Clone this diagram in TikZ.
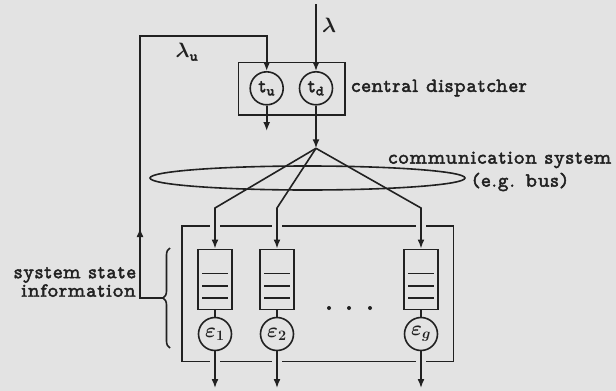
\documentclass[tikz,border=0pt]{standalone}
\usepackage{amsmath}
\usepackage{fontspec}
\setmainfont{lmmonoprop10-regular.otf}[FakeBold=2.2, LetterSpace=4, BoldFont=lmmonoproplt10-bold.otf]
\usetikzlibrary{arrows.meta,calc,shapes.geometric,decorations.pathreplacing}
\definecolor{paper}{gray}{0.89}
\definecolor{ink}{gray}{0.13}
\tikzset{
  wire/.style={line width=1.6pt, draw=ink},
  flow/.style={wire, -{Latex[length=9pt,width=7pt]}},
  servbox/.style={wire, rectangle, minimum width=34pt, minimum height=60pt, inner sep=0pt},
  server/.style={wire, circle, minimum size=33pt, inner sep=0pt, text=ink, font=\fontsize{20}{20}\selectfont},
  txtlbl/.style={font=\fontsize{20}{18.5}\selectfont, text=ink, inner sep=0pt},
}

\begin{document}
\begin{tikzpicture}[x=1pt,y=-1pt]
\useasboundingbox (0,0) rectangle (616,391);
\fill[paper] (0,0) rectangle (616,391);
\node[wire, rectangle, minimum width=106.7pt, minimum height=52.7pt] (disp) at (291.7,88.7) {};
\node[server] (tu) at (266.7,88.3) {t\textsubscript{\bfseries u}};
\node[server] (td) at (316,88.3) {t\textsubscript{\bfseries d}};
\node[txtlbl, anchor=west] (dlab) at (351,88) {central dispatcher};
\coordinate (lamin) at (316,4);
\node[txtlbl, anchor=west] (lam) at (322,25) {$\boldsymbol{\lambda}$};
\draw[flow] (lamin) -- (td);
\coordinate (tuout) at (266.7,131);
\draw[flow] (tu) -- (tuout);
\coordinate (hub) at (316,148.3);
\draw[flow] (td) -- (hub);
\node[wire, rectangle, minimum width=271.6pt, minimum height=135.7pt] (sys) at (317.5,293.8) {};
\node[servbox] (q1) at (215,279.3) {};
\node[servbox] (q2) at (277,279.3) {};
\node[servbox] (qg) at (421,279.3) {};
\node[server] (e1) at (215,334) {$\boldsymbol{\varepsilon_1}$};
\node[server] (e2) at (277,334) {$\boldsymbol{\varepsilon_2}$};
\node[server] (eg) at (421,334) {$\boldsymbol{\varepsilon_g}$};
\foreach \q in {q1,q2,qg}{
  \fill[paper] ($(\q|-sys.north)+(-5,-3)$) rectangle ($(\q|-sys.north)+(5,3)$);
  \fill[paper] ($(\q|-sys.south)+(-5,-3)$) rectangle ($(\q|-sys.south)+(5,3)$);
  \foreach \dy in {-6,6.4,18.4}
    \draw[wire] ($(\q.west)+(5,\dy)$) -- ($(\q.east)+(-5,\dy)$);
}
\coordinate (b1) at (215,208);
\coordinate (b2) at (277,208);
\coordinate (bg) at (421,208);
\draw[flow] (hub) -- (b1) -- (q1);
\draw[flow] (hub) -- (b2) -- (q2);
\draw[flow] (hub) -- (bg) -- (qg);
\draw[wire] (q1) -- (e1);
\draw[wire] (q2) -- (e2);
\draw[wire] (qg) -- (eg);
\coordinate (o1) at (215,388);
\coordinate (o2) at (277,388);
\coordinate (og) at (421,388);
\draw[flow] (e1) -- (o1);
\draw[flow] (e2) -- (o2);
\draw[flow] (eg) -- (og);
\foreach \x in {329,349,370}
  \fill[ink] (\x,308) circle (2pt);
\node[wire, ellipse, minimum width=315pt, minimum height=24pt, inner sep=0pt] (bus) at (307.5,178) {};
\node[txtlbl, anchor=west] (comm) at (388,160) {communication system};
\node[txtlbl, anchor=west] (egbus) at (472,182) {(e.g. bus)};
\draw[wire, decorate, decoration={brace, amplitude=7pt}] (170,348) -- (170,248);
\coordinate (btip) at (163,298);
\node[txtlbl, anchor=east, align=right] (ssi) at (136,282) {system state\\information};
\coordinate (fb) at (140,298);
\coordinate (fbtop) at (140,36);
\draw[flow] (btip) -- (fb) -- ++(0,-70);
\draw[flow] (fb) -- (fbtop) -| (tu);
\node[txtlbl] (lamu) at (187,52) {$\boldsymbol{\lambda}_{\textbf{u}}$};
\end{tikzpicture}
\end{document}
